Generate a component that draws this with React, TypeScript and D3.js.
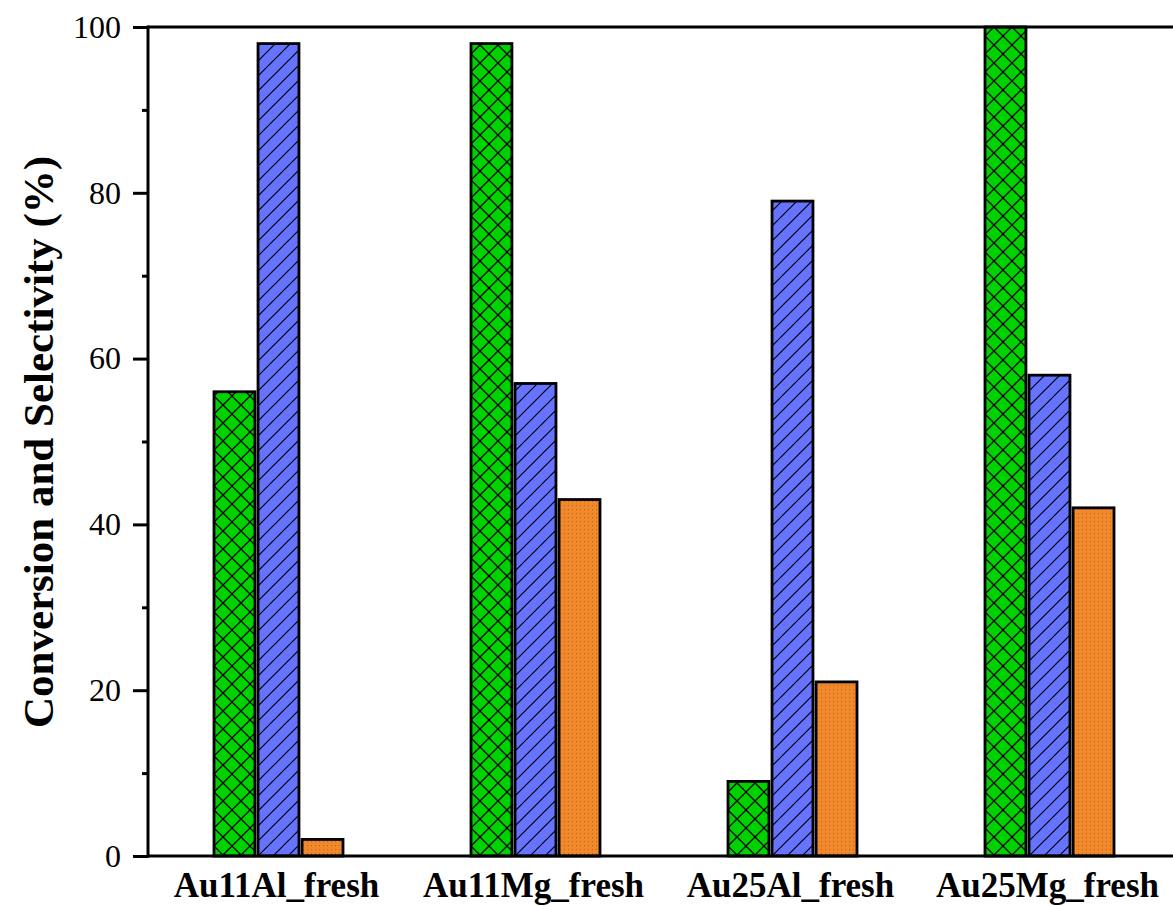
import React, { useEffect, useRef } from "react";
import * as d3 from "d3";

const categories = ["Au11Al_fresh", "Au11Mg_fresh", "Au25Al_fresh", "Au25Mg_fresh"];
const seriesNames = ["conversion", "selectivityA", "selectivityB"];
const conversion = [56, 98, 9, 100];
const selectivityA = [98, 57, 79, 58];
const selectivityB = [2, 43, 21, 42];
const majorTicks = [0, 20, 40, 60, 80, 100];
const minorTicks = [10, 30, 50, 70, 90];

const W = 1173;
const H = 906;
const margin = { left: 148, top: 27, bottom: 50 };

const App = () => {
  const axisRef = useRef<SVGGElement>(null);

  const x0 = d3.scaleBand().domain(categories).range([margin.left, margin.left + 4 * 257]);
  const x1 = d3.scaleBand().domain(seriesNames).range([0, 129]).paddingInner(0.07);
  const y = d3.scaleLinear().domain([0, 100]).range([H - margin.bottom, margin.top]);

  const values = [conversion, selectivityA, selectivityB];
  const fills = ["url(#cross)", "url(#diag)", "url(#dots)"];

  useEffect(() => {
    document.body.style.margin = "0";
    const g = d3.select(axisRef.current);
    g.selectAll("*").remove();
    const major = g.append("g").attr("transform", `translate(${margin.left},0)`)
      .call(d3.axisLeft(y).tickValues(majorTicks).tickSize(15).tickPadding(12));
    major.select(".domain").remove();
    major.selectAll("line").attr("stroke", "#000").attr("stroke-width", 3);
    major.selectAll("text")
      .attr("font-family", "'Liberation Serif', 'Times New Roman', serif")
      .attr("font-size", 32)
      .attr("fill", "#000");
    const minor = g.append("g").attr("transform", `translate(${margin.left},0)`)
      .call(d3.axisLeft(y).tickValues(minorTicks).tickSize(6).tickFormat(() => ""));
    minor.select(".domain").remove();
    minor.selectAll("line").attr("stroke", "#000").attr("stroke-width", 3);
  }, []);

  const xEnd = x0.range()[1];

  return (
    <svg width={W} height={H} style={{ display: "block", background: "#fff" }}>
      <defs>
        <pattern id="cross" patternUnits="userSpaceOnUse" width={18} height={18}>
          <rect width={18} height={18} fill="#00d200" />
          <path d="M0,0L18,18M18,0L0,18" stroke="#000" strokeWidth={1.3} />
        </pattern>
        <pattern id="diag" patternUnits="userSpaceOnUse" width={15} height={15}>
          <rect width={15} height={15} fill="#6673ff" />
          <path d="M0,15L15,0M-2,2L2,-2M13,17L17,13" stroke="#000" strokeWidth={1.2} />
        </pattern>
        <pattern id="dots" patternUnits="userSpaceOnUse" width={4} height={4}>
          <rect width={4} height={4} fill="#f0882c" />
          <rect x={1} y={1} width={1} height={1} fill="#c0601a" />
        </pattern>
      </defs>

      {categories.map((c, i) => (
        <g key={c} transform={`translate(${(x0(c) ?? 0) + x0.bandwidth() / 2 - 62.5},0)`}>
          {seriesNames.map((s, k) => (
            <rect
              key={s}
              x={x1(s)}
              y={y(values[k][i])}
              width={x1.bandwidth()}
              height={y(0) - y(values[k][i])}
              fill={fills[k]}
              stroke="#000"
              strokeWidth={2.8}
            />
          ))}
        </g>
      ))}

      <line x1={margin.left} x2={xEnd} y1={y(100)} y2={y(100)} stroke="#000" strokeWidth={3} />
      <line x1={margin.left} x2={xEnd} y1={y(0)} y2={y(0)} stroke="#000" strokeWidth={3} />
      <line x1={margin.left} x2={margin.left} y1={y(100) - 1.5} y2={y(0) + 1.5} stroke="#000" strokeWidth={3} />

      <g ref={axisRef} />

      {categories.map((c) => (
        <text
          key={c}
          x={(x0(c) ?? 0) + x0.bandwidth() / 2}
          y={897}
          textAnchor="middle"
          fontFamily="'Liberation Serif', 'Times New Roman', serif"
          fontWeight="bold"
          fontSize={35}
        >
          {c}
        </text>
      ))}

      <text
        transform={`translate(53,442) rotate(-90)`}
        textAnchor="middle"
        fontFamily="'Liberation Serif', 'Times New Roman', serif"
        fontWeight="bold"
        fontSize={43}
      >
        Conversion and Selectivity (%)
      </text>
    </svg>
  );
};

export default App;
